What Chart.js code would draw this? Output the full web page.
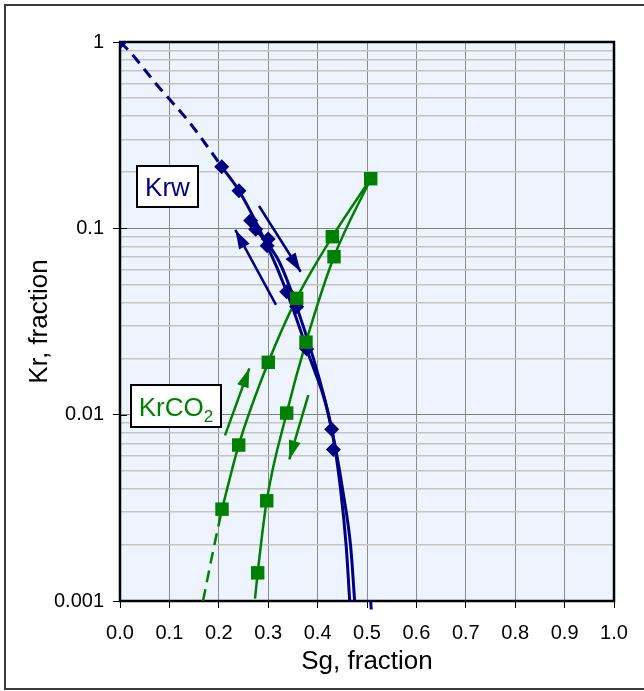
<!DOCTYPE html>
<html>
<head>
<meta charset="utf-8">
<title>Kr vs Sg</title>
<script src="https://cdn.jsdelivr.net/npm/chart.js@4.4.1/dist/chart.umd.min.js"></script>
<style>
    body { margin: 0; background: #fff; }
    #wrap { position: relative; width: 644px; height: 691px; overflow: hidden; }
    #frame {
        position: absolute; left: 4px; top: 4px; width: 700px; height: 686px;
        border: 2px solid #3a3a3a; box-sizing: border-box;
    }
    #chart { position: absolute; left: 0; top: 0; }
</style>
</head>
<body>
<div id="wrap">
    <div id="frame"></div>
    <canvas id="chart" width="644" height="691"></canvas>
</div>
<script>
// Axis ticks
const xTicks = [0, 0.1, 0.2, 0.3, 0.4, 0.5, 0.6, 0.7, 0.8, 0.9, 1.0];
const yDecades = [0.001, 0.01, 0.1, 1];
const yTickLabels = ['0.001', '0.01', '0.1', '1'];

// Krw (water) - measured points and fitted curves
const krwPoints = [
    [0, 1], [0.2058, 0.214], [0.2409, 0.159], [0.2646, 0.110], [0.2747, 0.099],
    [0.300, 0.0876], [0.298, 0.0807], [0.3374, 0.0457], [0.3577, 0.038],
    [0.378, 0.0225], [0.4285, 0.00834], [0.432, 0.00651]
];
const krwDashed = [[0, 1], [0.0202, 0.884], [0.0749, 0.588], [0.1417, 0.367], [0.1923, 0.241], [0.2058, 0.214]];
const krwCurveA = [
    [0.2058, 0.214], [0.2409, 0.159], [0.298, 0.0807], [0.3374, 0.0457], [0.378, 0.0225],
    [0.4285, 0.00834], [0.4467, 0.00394], [0.458, 0.00195], [0.465, 0.001]
];
const krwCurveB = [
    [0.2747, 0.099], [0.3205, 0.0676], [0.3577, 0.038], [0.415, 0.01198], [0.437, 0.00646],
    [0.4508, 0.00394], [0.467, 0.00195], [0.475, 0.001]
];
const krwTail = [[0.5075, 0.00101], [0.5085, 0.0009]];

// KrCO2 - measured points and fitted curves
const co2Points = [
    [0.2065, 0.00311], [0.2403, 0.00687], [0.3002, 0.0191], [0.3577, 0.0421], [0.4298, 0.0902],
    [0.5075, 0.1846], [0.4332, 0.0704], [0.3765, 0.0245], [0.3374, 0.0102], [0.297, 0.00345],
    [0.2787, 0.001416]
];
const co2Dashed = [[0.168, 0.001], [0.1889, 0.00188], [0.2065, 0.00311]];
const co2CurveUp = [[0.2065, 0.00311], [0.2403, 0.00687], [0.3002, 0.0191], [0.3577, 0.0421], [0.4298, 0.0902], [0.5075, 0.1846]];
const co2CurveDown = [[0.2733, 0.00103], [0.2787, 0.001416], [0.297, 0.00345], [0.3374, 0.0102], [0.3765, 0.0245], [0.4332, 0.0704], [0.5075, 0.1846]];

// Direction arrows (start, tip)
const krwArrowDown = [[0.2814, 0.1318], [0.3658, 0.0585]];
const krwArrowUp = [[0.3158, 0.0388], [0.2335, 0.098]];
const co2ArrowUp = [[0.2126, 0.00774], [0.2618, 0.01773]];
const co2ArrowDown = [[0.3812, 0.01274], [0.3428, 0.00575]];

const NAVY = '#000080';
const GREEN = '#008000';
const FONT = "'Liberation Sans', Arial, sans-serif";

Chart.defaults.font.family = FONT;

function pts(arr) {
    return arr.map(p => ({ x: p[0], y: p[1] }));
}

function isDecade(v) {
    const l = Math.log10(v);
    return Math.abs(l - Math.round(l)) < 1e-6;
}

// minor grid values between decades
const yTicks = [];
yDecades.forEach((d, i) => {
    yTicks.push(d);
    if (i < yDecades.length - 1) {
        for (let m = 2; m <= 9; m++) yTicks.push(+(d * m).toPrecision(3));
    }
});

function curve(data, color, width, dash) {
    return {
        data: pts(data), showLine: true, pointRadius: 0, borderColor: color,
        borderWidth: width, borderDash: dash || [], cubicInterpolationMode: 'monotone',
        fill: false
    };
}

function arrow(data, color) {
    return {
        data: pts(data), showLine: true, pointRadius: 0, borderColor: color,
        borderWidth: 2.5, tension: 0, arrow: true, fill: false
    };
}

const boxes = [
    { x: 137, y: 166, w: 61, h: 41, text: 'Krw', sub: '', color: NAVY },
    { x: 131, y: 385, w: 90, h: 42, text: 'KrCO', sub: '2', color: GREEN }
];

const plotStyle = {
    id: 'plotStyle',
    beforeDraw(chart) {
        const { ctx, chartArea: a } = chart;
        ctx.save();
        ctx.fillStyle = '#eef4fe';
        ctx.fillRect(a.left, a.top, a.width, a.height);
        ctx.restore();
    },
    beforeDatasetsDraw(chart) {
        const { ctx, chartArea: a } = chart;
        const ys = chart.scales.y;
        ctx.save();
        ctx.strokeStyle = '#000';
        ctx.lineWidth = 1;
        // inner half of the decade tick marks
        yDecades.forEach(d => {
            const py = Math.round(ys.getPixelForValue(d)) + 0.5;
            ctx.beginPath();
            ctx.moveTo(a.left, py);
            ctx.lineTo(a.left + 7, py);
            ctx.stroke();
        });
        ctx.lineWidth = 2.5;
        ctx.strokeRect(a.left, a.top, a.width, a.height);
        ctx.restore();
    },
    afterDatasetsDraw(chart) {
        const ctx = chart.ctx;
        chart.data.datasets.forEach((ds, i) => {
            if (!ds.arrow) return;
            const el = chart.getDatasetMeta(i).data;
            const p0 = el[el.length - 2], p1 = el[el.length - 1];
            const ang = Math.atan2(p1.y - p0.y, p1.x - p0.x);
            const len = 19, hw = 6;
            ctx.save();
            ctx.translate(p1.x, p1.y);
            ctx.rotate(ang);
            ctx.beginPath();
            ctx.moveTo(0, 0);
            ctx.lineTo(-len, -hw);
            ctx.lineTo(-len, hw);
            ctx.closePath();
            ctx.fillStyle = ds.borderColor;
            ctx.fill();
            ctx.restore();
        });
    },
    afterDraw(chart) {
        const ctx = chart.ctx;
        boxes.forEach(b => {
            ctx.save();
            ctx.fillStyle = '#fff';
            ctx.fillRect(b.x, b.y, b.w, b.h);
            ctx.strokeStyle = '#000';
            ctx.lineWidth = 2;
            ctx.strokeRect(b.x, b.y, b.w, b.h);
            ctx.fillStyle = b.color;
            ctx.textBaseline = 'alphabetic';
            ctx.font = '26px ' + FONT;
            const tw = ctx.measureText(b.text).width;
            ctx.font = '17px ' + FONT;
            const sw = b.sub ? ctx.measureText(b.sub).width : 0;
            const x0 = b.x + (b.w - tw - sw) / 2;
            const base = b.y + b.h / 2 + 9.5;
            ctx.font = '26px ' + FONT;
            ctx.fillText(b.text, x0, base);
            if (b.sub) {
                ctx.font = '17px ' + FONT;
                ctx.fillText(b.sub, x0 + tw, base + 6);
            }
            ctx.restore();
        });
    }
};

new Chart(document.getElementById('chart'), {
    type: 'scatter',
    data: {
        datasets: [
            { data: pts(co2Points), pointStyle: 'rect', pointRadius: 9.5, pointBackgroundColor: GREEN, pointBorderWidth: 0, showLine: false },
            { data: pts(krwPoints), pointStyle: 'rectRot', pointRadius: 7.5, pointBackgroundColor: NAVY, pointBorderWidth: 0, showLine: false },
            arrow(co2ArrowUp, GREEN),
            arrow(co2ArrowDown, GREEN),
            arrow(krwArrowDown, NAVY),
            arrow(krwArrowUp, NAVY),
            curve(co2CurveUp, GREEN, 2.5),
            curve(co2CurveDown, GREEN, 2.5),
            curve(co2Dashed, GREEN, 2.5, [12, 7]),
            curve(krwCurveA, NAVY, 3),
            curve(krwCurveB, NAVY, 3),
            curve(krwDashed, NAVY, 3, [11, 7]),
            Object.assign(curve(krwTail, NAVY, 3), { clip: false })
        ]
    },
    options: {
        responsive: false,
        animation: false,
        devicePixelRatio: 1,
        layout: { padding: { top: 42, right: 30, left: 0, bottom: 0 } },
        plugins: { legend: { display: false }, tooltip: { enabled: false } },
        scales: {
            x: {
                type: 'linear', min: 0, max: 1,
                afterBuildTicks: s => { s.ticks = xTicks.map(v => ({ value: v })); },
                afterFit: s => { s.height = 90; },
                ticks: {
                    callback: v => v.toFixed(1), color: '#000', font: { size: 20 },
                    padding: 13, maxRotation: 0, autoSkip: false
                },
                grid: { color: '#8c8c8c', lineWidth: 1, tickLength: 7, tickColor: '#000', tickWidth: 1 },
                border: { display: false },
                title: { display: true, text: 'Sg, fraction', color: '#000', font: { size: 26 }, padding: { top: 0, bottom: 14 } }
            },
            y: {
                type: 'logarithmic', min: 0.001, max: 1,
                afterBuildTicks: s => { s.ticks = yTicks.map(v => ({ value: v })); },
                afterFit: s => { s.width = 120; },
                ticks: {
                    callback: v => {
                        const i = yDecades.findIndex(d => Math.abs(d - v) / d < 1e-6);
                        return i >= 0 ? yTickLabels[i] : '';
                    },
                    color: '#000', font: { size: 20 }, padding: 9, autoSkip: false
                },
                grid: {
                    color: c => isDecade(c.tick.value) ? '#808080' : '#c4c4c4',
                    lineWidth: c => isDecade(c.tick.value) ? 1 : 1.5,
                    tickColor: c => isDecade(c.tick.value) ? '#000' : 'rgba(0,0,0,0)',
                    tickLength: 7, tickWidth: 1
                },
                border: { display: false },
                title: { display: true, text: 'Kr, fraction', color: '#000', font: { size: 26 }, padding: { top: 24, bottom: 0 } }
            }
        }
    },
    plugins: [plotStyle]
});
</script>
</body>
</html>
